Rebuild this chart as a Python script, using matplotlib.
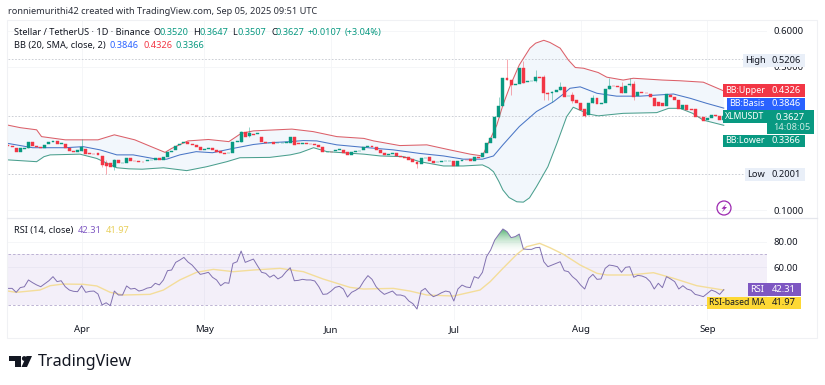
import numpy as np
import matplotlib
matplotlib.use("Agg")
import matplotlib.pyplot as plt
from matplotlib.patches import Circle, Polygon, Rectangle

plt.rcParams['font.family'] = ['Noto Sans', 'DejaVu Sans']

# day 0 = Mar 14 2025
month_days = [18, 48, 79, 109, 140, 171]
month_labels = ['Apr', 'May', 'Jun', 'Jul', 'Aug', 'Sep']

opens = [
    .282, .279, .274, .261, .270, .274, .289, .280, .277, .272,
    .283, .291, .293, .284, .284, .272, .265, .263, .266, .270,
    .258, .257, .258, .251, .232, .230, .221, .240, .230, .232,
    .244, .237, .236, .234, .236, .239, .240, .244, .240, .247,
    .263, .268, .282, .286, .291, .283, .282, .277, .269, .271,
    .272, .268, .266, .260, .258, .260, .291, .291, .319, .307,
    .312, .311, .303, .291, .288, .291, .288, .288, .288, .288,
    .303, .286, .285, .286, .285, .284, .282, .275, .263, .263,
    .264, .269, .268, .263, .254, .263, .264, .268, .275, .279,
    .275, .268, .260, .255, .256, .260, .251, .249, .249, .242,
    .235, .228, .244, .247, .238, .233, .234, .236, .237, .238,
    .223, .238, .240, .242, .238, .249, .247, .258, .286, .300,
    .359, .391, .468, .463, .450, .452, .498, .458, .459, .461,
    .471, .471, .426, .426, .431, .435, .443, .418, .420, .407,
    .400, .381, .365, .398, .412, .396, .398, .438, .447, .446,
    .444, .428, .449, .451, .418, .430, .428, .424, .412, .403,
    .400, .391, .422, .415, .407, .381, .393, .381, .381, .361,
    .359, .351, .356, .365, .363, .352,
]
closes = [
    .279, .275, .261, .272, .274, .289, .280, .277, .274, .282,
    .291, .292, .284, .286, .272, .265, .263, .267, .275, .256,
    .257, .256, .253, .225, .224, .221, .240, .230, .231, .244,
    .237, .236, .234, .233, .239, .240, .244, .240, .248, .263,
    .264, .280, .283, .291, .283, .282, .277, .268, .271, .272,
    .268, .263, .258, .256, .260, .291, .292, .319, .305, .314,
    .310, .314, .291, .288, .288, .284, .288, .288, .290, .303,
    .282, .285, .286, .285, .284, .282, .275, .263, .263, .262,
    .268, .270, .260, .254, .263, .264, .266, .275, .279, .275,
    .268, .260, .254, .256, .258, .251, .249, .246, .240, .235,
    .228, .244, .245, .238, .232, .234, .236, .237, .238, .223,
    .238, .240, .239, .237, .247, .244, .258, .286, .300, .359,
    .391, .468, .463, .449, .451, .498, .456, .459, .460, .471,
    .470, .426, .424, .431, .435, .444, .417, .418, .404, .400,
    .379, .363, .398, .412, .395, .398, .438, .447, .446, .443,
    .428, .447, .451, .417, .430, .428, .426, .415, .391, .391,
    .391, .423, .415, .407, .381, .393, .379, .379, .361, .359,
    .350, .356, .365, .363, .352, .3627,
]
# only candles with a wick you can actually see
wick_days = [5, 18, 23, 24, 26, 57, 59, 100, 119, 120, 122, 123, 126, 129, 131, 132, 133, 135, 138, 141, 143, 147, 150, 152, 153]
wick_highs = [.291, .297, .252, .240, .242, .322, .333, .236, .362, .417, .5206, .464, .515, .491, .477, .430, .432, .458, .430, .382, .421, .468, .458, .468, .460]
wick_lows = [.273, .264, .221, .201, .212, .291, .305, .216, .300, .359, .463, .421, .456, .458, .407, .407, .403, .435, .398, .361, .398, .438, .428, .447, .407]

upper_days = [0, 3, 7, 8.2, 14, 22, 26, 31, 35, 38.4, 40, 44, 49, 54, 57, 60, 69.4, 74.6, 80.4, 87, 89.4, 95.8, 102.4, 108, 113, 116, 117.4, 119.5, 121, 122.7, 125, 127.6, 129, 131, 132.5, 135, 137, 138.7, 140.7, 144.3, 146.4, 150.4, 152.9, 160, 164.3, 170, 175]
upper = [.337, .330, .324, .305, .296, .296, .310, .296, .277, .261, .272, .293, .297, .291, .314, .321, .326, .319, .305, .300, .293, .280, .282, .268, .256, .251, .286, .337, .393, .445, .505, .552, .566, .574, .568, .552, .519, .498, .496, .484, .471, .463, .468, .463, .461, .457, .4326]
basis_days = [0, 3, 6, 14, 18.4, 22.5, 26.6, 30.6, 36.4, 38.8, 42, 46, 50, 55, 60, 64, 69, 72.2, 75.5, 80.4, 87, 94.2, 100.7, 106.5, 111.3, 116, 118.7, 121, 125, 129.2, 133.3, 135.8, 137.4, 139.9, 144, 148.8, 154.5, 162.7, 166.8, 170.8, 175]
basis = [.286, .280, .274, .274, .277, .268, .254, .254, .242, .242, .254, .263, .260, .272, .283, .288, .291, .294, .293, .282, .275, .268, .258, .251, .242, .242, .251, .282, .333, .375, .402, .424, .440, .444, .426, .418, .418, .424, .412, .398, .3846]
lower_days = [0, 7, 8.8, 10.3, 17.6, 21.7, 26.6, 29.6, 32.8, 38, 43.7, 48.6, 53.5, 56.7, 64, 69, 71.4, 74.7, 78, 87, 91, 96.7, 100.7, 106.5, 111.3, 116, 117.5, 118.7, 120, 121, 122.5, 124.4, 126, 127.5, 129.2, 132, 134.2, 136.6, 138.2, 142, 144.3, 150.4, 158.6, 161.5, 164.3, 167.4, 170, 175]
lower = [.240, .235, .249, .254, .256, .244, .218, .215, .214, .218, .210, .221, .235, .246, .247, .254, .260, .274, .263, .256, .251, .249, .235, .223, .223, .226, .218, .207, .180, .156, .135, .123, .122, .134, .165, .221, .286, .361, .387, .368, .363, .370, .372, .384, .384, .370, .351, .3366]

rsi = [
    43.3, 43.3, 40.2, 43.9, 44.6, 49.9, 47.8, 46.0, 44.6, 47.0,
    49.3, 52.5, 48.6, 49.3, 44.6, 42.0, 41.0, 40.7, 45.4, 40.2,
    41.0, 41.2, 38.9, 30.3, 32.0, 29.7, 41.2, 38.1, 38.1, 45.2,
    42.8, 43.3, 41.2, 42.0, 43.5, 44.1, 47.3, 46.0, 49.9, 57.2,
    57.7, 63.7, 65.5, 67.6, 64.0, 61.6, 58.0, 54.3, 55.0, 55.9,
    52.0, 49.9, 45.4, 47.8, 47.3, 62.9, 64.2, 72.6, 63.7, 65.0,
    66.3, 61.0, 55.9, 55.1, 52.0, 53.8, 50.7, 52.5, 56.4, 59.5,
    49.3, 49.6, 50.4, 49.9, 49.9, 49.1, 44.6, 38.6, 38.9, 41.2,
    44.1, 44.9, 42.8, 36.5, 40.2, 41.8, 43.9, 49.1, 53.3, 50.4,
    44.6, 41.2, 38.6, 39.9, 41.2, 38.1, 38.1, 37.1, 33.4, 31.3,
    27.1, 41.2, 43.3, 39.4, 36.8, 38.1, 39.9, 41.2, 40.5, 33.4,
    42.8, 45.9, 44.4, 43.9, 52.5, 51.2, 55.9, 68.2, 73.4, 81.2,
    85.7, 89.9, 87.8, 83.1, 83.9, 85.9, 74.2, 73.9, 73.9, 75.2,
    75.5, 64.2, 60.3, 61.6, 62.9, 64.2, 57.2, 56.4, 52.5, 49.9,
    45.9, 42.8, 51.2, 54.3, 50.4, 50.7, 59.0, 61.6, 61.1, 60.3,
    55.9, 59.8, 60.3, 52.0, 53.5, 53.0, 51.7, 48.6, 42.8, 47.3,
    43.9, 52.5, 50.7, 48.6, 42.8, 45.4, 42.8, 41.8, 38.6, 37.8,
    36.8, 39.4, 42.0, 40.7, 38.6, 42.31,
]
rsi_ma_days = [0, 2, 7.8, 10.3, 13.5, 18.4, 21.7, 25, 28.2, 34.7, 38, 42, 46.1, 50.2, 55.1, 60, 66.5, 72.2, 77, 83.6, 86.9, 94.2, 98.3, 102.4, 108.9, 115.4, 117.9, 121, 124.4, 126.8, 130, 132.5, 135.8, 139.9, 144, 146.4, 152, 157.8, 162.7, 168.4, 175]
rsi_ma = [41.2, 40.2, 42.0, 45.4, 46.7, 46.5, 45.2, 40.2, 38.1, 38.6, 42.0, 49.9, 55.9, 58.2, 56.4, 57.7, 59.0, 56.4, 50.7, 44.1, 42.8, 43.3, 41.2, 38.1, 37.3, 42.0, 48.6, 59.0, 70.0, 76.0, 78.6, 75.2, 70.0, 61.6, 55.1, 53.8, 53.8, 55.6, 51.2, 45.4, 41.97]

GREEN = '#089981'
RED = '#f23645'
BLUE = '#2962ff'
PURPLE = '#7e57c2'
YELLOW = '#fdd835'
INK = '#131722'
W, H = 825, 385
XMAX = 185.57


def axes_at(left, top, right, bottom):
    return [left / W, 1 - bottom / H, (right - left) / W, (bottom - top) / H]


def draw_price(ax):
    days = np.arange(len(closes))
    o, c = np.array(opens), np.array(closes)
    colors = [GREEN if b >= a else RED for a, b in zip(o, c)]
    ax.fill(np.r_[upper_days, lower_days[::-1]], np.r_[upper, lower[::-1]],
            color='#f2f7fc', lw=0, zorder=1)
    ax.plot(upper_days, upper, color='#dc6069', lw=0.75, zorder=2)
    ax.plot(basis_days, basis, color='#4a76c6', lw=0.75, zorder=2)
    ax.plot(lower_days, lower, color='#4a9f8e', lw=0.75, zorder=2)
    wick_colors = [colors[d] for d in wick_days]
    ax.vlines(wick_days, wick_lows, wick_highs, colors=wick_colors, lw=0.5, alpha=0.6, zorder=3)
    ax.bar(days, np.abs(c - o), bottom=np.minimum(o, c), width=0.72,
           color=colors, edgecolor=colors, lw=0.3, zorder=4)
    for level in [0.5206, 0.3627, 0.2001]:
        ax.axhline(level, color='#c4c7cf', lw=0.6, dashes=(2, 2), zorder=1.5)
    ax.set_xlim(0, XMAX)
    ax.set_ylim(0.0777, 0.6307)
    ax.set_yticks([0.1, 0.5, 0.6])
    ax.set_yticklabels(['0.1000', '0.5000', '0.6000'])
    ax.set_xticks(month_days)
    ax.tick_params(axis='x', length=0, labelbottom=False)
    ax.tick_params(axis='y', length=0, right=True, left=False, labelright=True, labelleft=False,
                   pad=5, labelsize=6.9, labelcolor=INK)
    ax.grid(True, color='#f4f5f7', lw=0.6)
    ax.set_axisbelow(True)
    for s in ax.spines.values():
        s.set_visible(False)


def draw_rsi(ax):
    days = np.arange(len(rsi))
    values = np.array(rsi)
    ax.axhspan(30, 70, color=PURPLE, alpha=0.09, lw=0, zorder=1)
    for level in [30, 70]:
        ax.axhline(level, color='#b3a8cd', lw=0.6, dashes=(3, 2.5), zorder=1.5)
    poly = ax.fill_between(days, 70, values, where=values > 70, interpolate=True, color='none')
    grad = np.linspace(0, 1, 64)[:, None]
    cmap = matplotlib.colors.LinearSegmentedColormap.from_list('rsi', ['#ffffff00', '#4caf6a'])
    for path in poly.get_paths():
        im = ax.imshow(grad, cmap=cmap, origin='lower', extent=[0, XMAX, 70, 90],
                       aspect='auto', zorder=2)
        im.set_clip_path(path, transform=ax.transData)
    ax.plot(rsi_ma_days, rsi_ma, color='#f3dd9a', lw=1.0, zorder=3)
    ax.plot(days, values, color='#8171b0', lw=0.7, zorder=4)
    ax.set_xlim(0, XMAX)
    ax.set_ylim(18.5, 98.5)
    ax.set_yticks([60, 80])
    ax.set_yticklabels(['60.00', '80.00'])
    ax.set_xticks(month_days)
    ax.set_xticklabels(month_labels)
    ax.tick_params(axis='x', length=0, pad=3.5, labelsize=6.9, labelcolor=INK)
    ax.tick_params(axis='y', length=0, right=True, left=False, labelright=True, labelleft=False,
                   pad=5, labelsize=6.9, labelcolor=INK)
    ax.grid(True, color='#f4f5f7', lw=0.6)
    ax.set_axisbelow(True)
    for s in ax.spines.values():
        s.set_visible(False)


def tag(ax, x0, x1, y0, y1, fill, label, color='white', size=6.7):
    ax.add_patch(Rectangle((x0, y0), x1 - x0, y1 - y0, facecolor=fill, edgecolor='none', zorder=5))
    ax.text((x0 + x1) / 2, (y0 + y1) / 2 - 0.2, label, color=color, fontsize=size, ha='center', va='center', zorder=6)


def draw_overlay(ax):
    ax.set_xlim(0, W)
    ax.set_ylim(H, 0)
    ax.axis('off')
    ax.add_patch(Rectangle((7, 20), 810, 318, fill=False, edgecolor='#f0f1f4', lw=0.8))
    ax.plot([7, 817], [218, 218], color='#e4e6ec', lw=0.9)

    txt = dict(fontsize=6.6, va='center')
    ax.text(8, 11.7, 'ronniemurithi42 created with TradingView.com, Sep 05, 2025 09:51 UTC', color='#2a2e39', **txt)
    ax.text(14, 32.5, 'Stellar / TetherUS · 1D · Binance', color=INK, **txt)
    for x, s, c in [(154, 'O', INK), (160, '0.3520', GREEN), (193, 'H', INK), (199, '0.3647', GREEN),
                    (232, 'L', INK), (237, '0.3507', GREEN), (271, 'C', INK), (276, '0.3627', GREEN),
                    (308, '+0.0107', GREEN), (345, '(+3.04%)', GREEN)]:
        ax.text(x, 32.5, s, color=c, **txt)
    ax.text(14, 45.7, 'BB (20, SMA, close, 2)', color=INK, **txt)
    for x, s, c in [(109, '0.3846', BLUE), (143, '0.4326', RED), (176, '0.3366', GREEN)]:
        ax.text(x, 45.7, s, color=c, **txt)
    ax.text(14, 230.7, 'RSI (14, close)', color=INK, **txt)
    ax.text(78, 230.7, '42.31', color=PURPLE, **txt)
    ax.text(106, 230.7, '41.97', color='#e8cf5a', **txt)

    pale = '#e9eff8'
    tag(ax, 743, 767, 53.5, 67, pale, 'High', INK)
    tag(ax, 767, 805, 53.5, 67, pale, '0.5206', INK)
    tag(ax, 745, 767, 168, 181, pale, 'Low', INK)
    tag(ax, 767, 805, 168, 181, pale, '0.2001', INK)
    tag(ax, 722.7, 766.7, 84, 97, RED, 'BB:Upper', size=6.4)
    tag(ax, 767.3, 805, 84, 97, RED, '0.4326')
    tag(ax, 727, 766.7, 98, 110, BLUE, 'BB:Basis', size=6.4)
    tag(ax, 767.3, 805, 98, 110, BLUE, '0.3846')
    tag(ax, 722.7, 766.7, 110, 123, GREEN, 'XLMUSDT', size=6.2)
    tag(ax, 767.3, 814, 110, 134, GREEN, '')
    ax.text(790, 117, '0.3627', color='white', fontsize=6.7, ha='center', va='center', zorder=6)
    ax.text(792, 127.5, '14:08:05', color='#c8ebe3', fontsize=6.7, ha='center', va='center', zorder=6)
    tag(ax, 722.7, 766.7, 134.7, 146.7, GREEN, 'BB:Lower', size=6.4)
    tag(ax, 767.3, 805, 134.7, 146.7, GREEN, '0.3366')
    tag(ax, 748, 766.7, 283.3, 296, PURPLE, 'RSI')
    tag(ax, 767.3, 800.7, 283.3, 296, PURPLE, '42.31')
    tag(ax, 706.7, 766.7, 296.7, 309.3, YELLOW, 'RSI-based MA', INK, size=6.2)
    tag(ax, 767.3, 800.7, 296.7, 309.3, YELLOW, '41.97', INK)

    ax.add_patch(Circle((724, 208), 7, fill=False, edgecolor='#9c27b0', lw=0.9))
    ax.add_patch(Polygon([(726.5, 203.5), (721.5, 208.8), (724, 208.8), (721.8, 212.5), (727, 207), (724.4, 207)],
                         color='#9c27b0', lw=0))

    ax.add_patch(Polygon([(9, 356), (21, 356), (21, 367), (15, 367), (15, 361), (9, 361)], color='#131722', lw=0))
    ax.add_patch(Circle((24.3, 358.5), 2.4, color='#131722', lw=0))
    ax.add_patch(Polygon([(26.5, 356), (32, 356), (27, 367), (21.5, 367)], color='#131722', lw=0))
    ax.text(38, 361.5, 'TradingView', color='#131722', fontsize=11.6, fontweight='medium', va='center')


fig = plt.figure(figsize=(W / 100, H / 100), dpi=100, facecolor='white')
ax_price = fig.add_axes(axes_at(8, 20, 767, 218))
ax_rsi = fig.add_axes(axes_at(8, 218, 767, 320))
ax_over = fig.add_axes([0, 0, 1, 1], facecolor='none', zorder=10)
draw_price(ax_price)
draw_rsi(ax_rsi)
draw_overlay(ax_over)
fig.savefig('out.png', dpi=100)
